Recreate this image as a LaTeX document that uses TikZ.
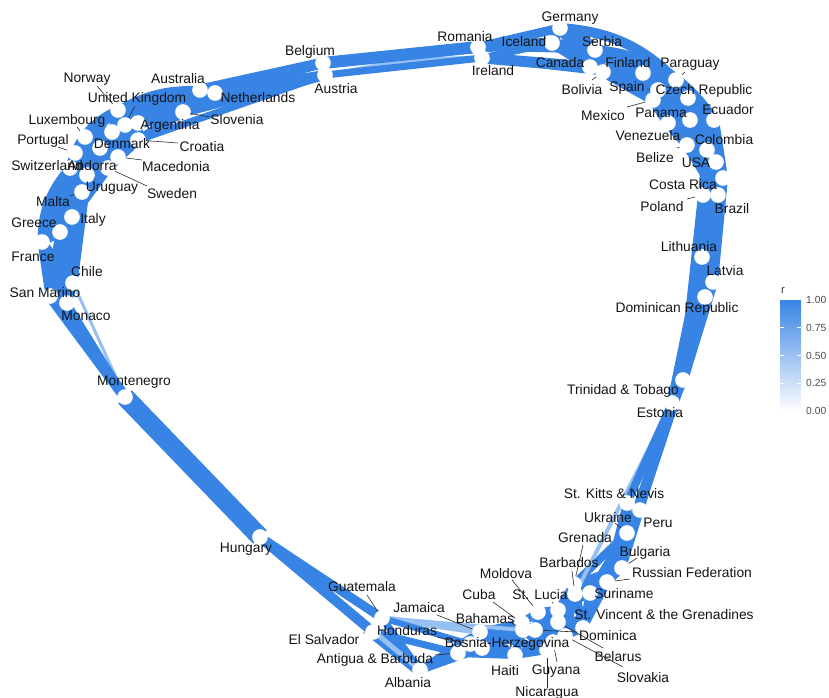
\documentclass[tikz,border=0pt]{standalone}
\usepackage{fontspec}
\setmainfont{Liberation Sans}
\definecolor{netblue}{RGB}{56,132,228}
\definecolor{netlight}{RGB}{150,192,242}
\pgfdeclarelayer{edges}
\pgfdeclarelayer{marks}
\pgfsetlayers{edges,main,marks}
\begin{document}
\begin{tikzpicture}[x=0.03cm,y=-0.03cm,
  pt/.style={circle,fill=white,draw=none,minimum size=0.47cm,inner sep=0pt},
  lab/.style={font=\fontsize{11.8}{13}\selectfont,text=black!92,inner sep=0pt},
  leader/.style={draw=black!85,line width=0.5pt},
  edge/.style={draw=netblue,line width=#1*0.03cm},
  edge/.default=7,
  faint/.style={draw=netlight,line width=#1*0.03cm},
  faint/.default=3,
  legtext/.style={font=\fontsize{8.8}{10}\selectfont,text=black!70,inner sep=0pt,anchor=west}]

\useasboundingbox (0,0) rectangle (829,698);

% ---- left crescent (listed clockwise, bottom to top)
\node[pt,alias=t1]  (mon)  at (67,303) {};
\node[pt,alias=t2]  (smr)  at (50,296) {};
\node[pt,alias=t3]  (chi)  at (73,283) {};
\node[pt,alias=t4]  (fra)  at (42,242) {};
\node[pt,alias=t5]  (gre)  at (60,232) {};
\node[pt,alias=t6]  (ita)  at (72,217) {};
\node[pt,alias=t7]  (mal)  at (82,192) {};
\node[pt,alias=t8]  (uru)  at (87,175) {};
\node[pt,alias=t9]  (andr) at (70,168) {};
\node[pt,alias=t10] (swe)  at (108,168) {};
\node[pt,alias=t11] (por)  at (75,153) {};
\node[pt,alias=t12] (mac)  at (118,157) {};
\node[pt,alias=t13] (den)  at (100,148) {};
\node[pt,alias=t14] (lux)  at (85,137) {};
\node[pt,alias=t15] (cro)  at (138,140) {};
\node[pt,alias=t16] (swi)  at (112,132) {};
\node[pt,alias=t17] (uk)   at (125,125) {};
\node[pt,alias=t18] (arg)  at (138,123) {};
\node[pt,alias=t19] (nor)  at (118,110) {};
\node[pt,alias=t20] (slo)  at (183,112) {};
\node[pt,alias=t21] (aus)  at (200,90) {};
\node[pt,alias=t22] (neth) at (215,93) {};
\node[pt] (bel) at (323,63) {};
\node[pt] (aut) at (325,75) {};

% ---- top right arc and right side
\node[pt] (rom) at (478,47) {};
\node[pt] (ire) at (482,58) {};
\node[pt,alias=r1]  (ice) at (552,43) {};
\node[pt,alias=r2]  (ger) at (560,28) {};
\node[pt,alias=r3]  (can) at (590,67) {};
\node[pt,alias=r4]  (ser) at (595,50) {};
\node[pt,alias=r5]  (bol) at (603,72) {};
\node[pt,alias=r6]  (fin) at (643,73) {};
\node[pt,alias=r7]  (spa) at (658,90) {};
\node[pt,alias=r8]  (par) at (676,80) {};
\node[pt,alias=r9]  (mex) at (653,100) {};
\node[pt,alias=r10] (cze) at (688,98) {};
\node[pt,alias=r11] (pan) at (668,123) {};
\node[pt,alias=r12] (ven) at (690,120) {};
\node[pt,alias=r13] (ecu) at (714,120) {};
\node[pt,alias=r14] (blz) at (687,145) {};
\node[pt,alias=r15] (col) at (707,150) {};
\node[pt,alias=r16] (usa) at (716,162) {};
\node[pt,alias=r17] (cri) at (723,178) {};
\node[pt,alias=r18] (bra) at (718,195) {};
\node[pt,alias=r19] (pol) at (703,195) {};
\node[pt,alias=r20] (lit) at (702,257) {};
\node[pt,alias=r21] (lat) at (713,282) {};
\node[pt,alias=r22] (dom) at (705,297) {};
\node[pt,alias=r23] (tri) at (683,380) {};
\node[pt,alias=r24] (est) at (672,403) {};

% ---- bottom arc (clockwise, right to left)
\node[pt,alias=b1]  (stk) at (627,503) {};
\node[pt,alias=b2]  (peru) at (640,510) {};
\node[pt,alias=b3]  (ukr) at (627,533) {};
\node[pt,alias=b4]  (bul) at (622,568) {};
\node[pt,alias=b5]  (rus) at (607,582) {};
\node[pt,alias=b6]  (sur) at (590,593) {};
\node[pt,alias=b7]  (grn) at (574,584) {};
\node[pt,alias=b8]  (bar) at (575,594) {};
\node[pt,alias=b9]  (svg) at (583,628) {};
\node[pt,alias=b10] (luc) at (558,610) {};
\node[pt,alias=b11] (bls) at (558,622) {};
\node[pt,alias=b12] (svk) at (565,636) {};
\node[pt,alias=b13] (mol) at (538,612) {};
\node[pt,alias=b14] (dma) at (535,630) {};
\node[pt,alias=b15] (guy) at (553,642) {};
\node[pt,alias=b16] (nic) at (547,650) {};
\node[pt,alias=b17] (cub) at (522,623) {};
\node[pt,alias=b18] (bah) at (523,630) {};
\node[pt,alias=b19] (hai) at (515,655) {};
\node[pt,alias=b20] (jam) at (480,632) {};
\node[pt,alias=b21] (bos) at (482,648) {};
\node[pt,alias=b22] (hon) at (470,644) {};
\node[pt,alias=b23] (ant) at (458,653) {};
\node[pt,alias=b24] (alb) at (420,670) {};
\node[pt] (gua) at (382,618) {};
\node[pt] (els) at (373,632) {};
\node[pt] (hun) at (260,537) {};
\node[pt] (mne) at (125,397) {};

% ---- correlation edges
\begin{pgfonlayer}{edges}
  % dense neighbourhoods along each arc
  \foreach \i in {1,...,21}{\foreach \d in {1,...,5}{%
    \pgfmathtruncatemacro{\j}{\i+\d}%
    \ifnum\j<23 \draw[edge=9] (t\i.center) -- (t\j.center);\fi}}
  \foreach \i in {1,...,23}{\foreach \d in {1,...,4}{%
    \pgfmathtruncatemacro{\j}{\i+\d}%
    \ifnum\j<25 \draw[edge=10] (r\i.center) -- (r\j.center);\fi}}
  \foreach \i in {1,...,23}{\foreach \d in {1,...,4}{%
    \pgfmathtruncatemacro{\j}{\i+\d}%
    \ifnum\j<25 \draw[edge=8] (b\i.center) -- (b\j.center);\fi}}
  % outer curves of the arcs
  \draw[edge=9] (fra.center) to[bend left=20] (andr.center);
  \draw[edge=9] (andr.center) to[bend left=25] (nor.center);
  \draw[edge=8] (nor.center) to[bend left=15] (aus.center);
  \draw[edge=10] (ger.center) to[bend left=20] (par.center);
  \draw[edge=10] (ser.center) to[bend left=25] (ecu.center);
  \draw[edge=9] (par.center) to[bend left=15] (cri.center);
  % left group to Belgium / Austria
  \foreach \a/\b/\w in {slo/aut/10,slo/bel/7,aus/bel/11,aus/aut/8,neth/bel/9,neth/aut/10,
                        nor/bel/7,nor/aut/6,arg/aut/7,arg/bel/6,uk/bel/6,uk/aut/5,
                        cro/aut/7,swi/bel/5}
    \draw[edge=\w] (\a.center) -- (\b.center);
  % Belgium / Austria to Romania / Ireland
  \draw[faint=5] (bel.center) -- (ire.center);
  \draw[faint=4] (aut.center) -- (rom.center);
  \draw[edge=12] (bel.center) -- (rom.center);
  \draw[edge=7] (aut.center) -- (ire.center);
  % Romania / Ireland into the top right arc
  \foreach \a/\b/\w in {rom/ice/11,rom/ger/9,ire/can/11,ire/bol/7,rom/ser/7,ire/ice/7}
    \draw[edge=\w] (\a.center) -- (\b.center);
  % right side down to the bottom arc
  \draw[faint=4] (tri.center) -- (ukr.center);
  \draw[faint=4] (est.center) -- (bar.center);
  \foreach \a/\b/\w in {tri/stk/6,tri/peru/7,est/stk/8,est/peru/8,est/ukr/6}
    \draw[edge=\w] (\a.center) -- (\b.center);
  % bottom arc to Guatemala / El Salvador
  \draw[faint=6] (jam.center) -- (gua.center);
  \draw[faint=4] (bah.center) -- (gua.center);
  \foreach \a/\b/\w in {alb/els/13,alb/gua/7,ant/els/7,hon/gua/6}
    \draw[edge=\w] (\a.center) -- (\b.center);
  % Hungary and Montenegro
  \draw[faint=5] (alb.center) -- (hun.center);
  \draw[faint] (mne.center) -- (chi.center);
  \foreach \a/\b/\w in {gua/hun/9,els/hun/10,hun/mne/19,mne/smr/11,mne/mon/7}
    \draw[edge=\w] (\a.center) -- (\b.center);
\end{pgfonlayer}

% ---- labels and leader lines
\begin{pgfonlayer}{marks}
  \foreach \x/\y/\n in {97/86/nor,135/106/uk,77/127/lux,58/147/por,178/143/cro,
      142/160/mac,147/186/swe,95/179/uru,70/196/mal,210/117/slo,
      592/80/bol,685/72/par,647/89/spa,627/107/mex,677/148/blz,687/199/pol,
      615/523/ukr,583/545/grn,572/571/bar,637/558/bul,630/579/rus,
      512/580/mol,552/602/luc,493/602/cub,512/623/bah,577/632/dma,
      603/648/bls,623/667/svk,557/662/guy,547/688/nic,
      437/615/jam,435/655/ant,437/637/hon,367/595/gua,363/633/els}
    \draw[leader] (\x,\y) -- (\n);

  \node[lab] (Lger) at (570,18) {Germany};
  \node[lab] (Lrom) at (465,37) {Romania};
  \node[lab] (Lice) at (524,42) {Iceland};
  \node[lab] (Lser) at (602,42) {Serbia};
  \node[lab] (Lbel) at (310,52) {Belgium};
  \node[lab] (Lcan) at (560,63) {Canada};
  \node[lab] (Lfin) at (628,63) {Finland};
  \node[lab] (Lpar) at (690,64) {Paraguay};
  \node[lab] (Lire) at (493,71) {Ireland};
  \node[lab] (Laus) at (178,79) {Australia};
  \node[lab] (Lnor) at (87,79) {Norway};
  \node[lab] (Lbol) at (582,90) {Bolivia};
  \node[lab] (Lspa) at (627,88) {Spain};
  \node[lab] (Lcze) at (704,91) {Czech Republic};
  \node[lab] (Laut) at (336,89) {Austria};
  \node[lab] (Lneth) at (258,98) {Netherlands};
  \node[lab] (Luk) at (137,99) {United Kingdom};
  \node[lab] (Lmex) at (603,116) {Mexico};
  \node[lab] (Lpan) at (661,113) {Panama};
  \node[lab] (Lecu) at (728,110) {Ecuador};
  \node[lab] (Lslo) at (237,120) {Slovenia};
  \node[lab] (Llux) at (67,121) {Luxembourg};
  \node[lab] (Larg) at (170,126) {Argentina};
  \node[lab] (Lven) at (648,136) {Venezuela};
  \node[lab] (Lcol) at (724,140) {Colombia};
  \node[lab] (Lpor) at (43,141) {Portugal};
  \node[lab] (Lden) at (122,144) {Denmark};
  \node[lab] (Lcro) at (202,147) {Croatia};
  \node[lab] (Lblz) at (655,158) {Belize};
  \node[lab] (Lusa) at (696,163) {USA};
  \node[lab] (Lswi) at (47,166) {Switzerland};
  \node[lab] (Landr) at (92,166) {Andorra};
  \node[lab] (Lmac) at (176,167) {Macedonia};
  \node[lab] (Lcri) at (683,185) {Costa Rica};
  \node[lab] (Luru) at (112,188) {Uruguay};
  \node[lab] (Lswe) at (172,194) {Sweden};
  \node[lab] (Lmal) at (53,202) {Malta};
  \node[lab] (Lpol) at (662,207) {Poland};
  \node[lab] (Lbra) at (732,209) {Brazil};
  \node[lab] (Lita) at (93,220) {Italy};
  \node[lab] (Lgre) at (34,223) {Greece};
  \node[lab] (Llit) at (689,247) {Lithuania};
  \node[lab] (Lfra) at (33,257) {France};
  \node[lab] (Llat) at (725,271) {Latvia};
  \node[lab] (Lchi) at (87,272) {Chile};
  \node[lab] (Lsmr) at (45,293) {San Marino};
  \node[lab] (Ldom) at (677,309) {Dominican Republic};
  \node[lab] (Lmon) at (86,316) {Monaco};
  \node[lab] (Lmne) at (134,382) {Montenegro};
  \node[lab] (Ltri) at (623,391) {Trinidad \& Tobago};
  \node[lab] (Lest) at (660,413) {Estonia};
  \node[lab] (Lstk) at (614,494) {St. Kitts \& Nevis};
  \node[lab] (Lukr) at (608,518) {Ukraine};
  \node[lab] (Lperu) at (658,523) {Peru};
  \node[lab] (Lgrn) at (585,538) {Grenada};
  \node[lab] (Lhun) at (246,549) {Hungary};
  \node[lab] (Lbul) at (645,553) {Bulgaria};
  \node[lab] (Lbar) at (569,563) {Barbados};
  \node[lab] (Lrus) at (692,573) {Russian Federation};
  \node[lab] (Lmol) at (506,574) {Moldova};
  \node[lab] (Lsur) at (624,594) {Suriname};
  \node[lab] (Lgua) at (362,587) {Guatemala};
  \node[lab] (Lcub) at (479,595) {Cuba};
  \node[lab] (Lluc) at (540,595) {St. Lucia};
  \node[lab] (Ljam) at (419,608) {Jamaica};
  \node[lab] (Lsvg) at (664,615) {St. Vincent \& the Grenadines};
  \node[lab] (Lbah) at (485,619) {Bahamas};
  \node[lab] (Lhon) at (407,631) {Honduras};
  \node[lab] (Lels) at (324,640) {El Salvador};
  \node[lab] (Ldma) at (608,636) {Dominica};
  \node[lab] (Lbos) at (507,644) {Bosnia-Herzegovina};
  \node[lab] (Lbls) at (618,657) {Belarus};
  \node[lab] (Lant) at (375,660) {Antigua \& Barbuda};
  \node[lab] (Lhai) at (505,671) {Haiti};
  \node[lab] (Lguy) at (556,671) {Guyana};
  \node[lab] (Lsvk) at (643,678) {Slovakia};
  \node[lab] (Lalb) at (408,683) {Albania};
  \node[lab] (Lnic) at (547,693) {Nicaragua};

  % ---- colour bar for r
  \shade[bottom color=white,top color=netblue] (780,300) rectangle (801,411);
  \foreach \y in {327.75,355.5,383.25}{
    \draw[white,line width=0.6pt] (780,\y) -- (784,\y);
    \draw[white,line width=0.6pt] (797,\y) -- (801,\y);}
  \node[font=\fontsize{9.5}{10}\selectfont,text=black!80,inner sep=0pt] (Lr) at (783,291) {r};
  \node[legtext] (k100) at (806,300) {1.00};
  \node[legtext] (k075) at (806,327.75) {0.75};
  \node[legtext] (k050) at (806,355.5) {0.50};
  \node[legtext] (k025) at (806,383.25) {0.25};
  \node[legtext] (k000) at (806,411) {0.00};
\end{pgfonlayer}
\end{tikzpicture}
\end{document}
